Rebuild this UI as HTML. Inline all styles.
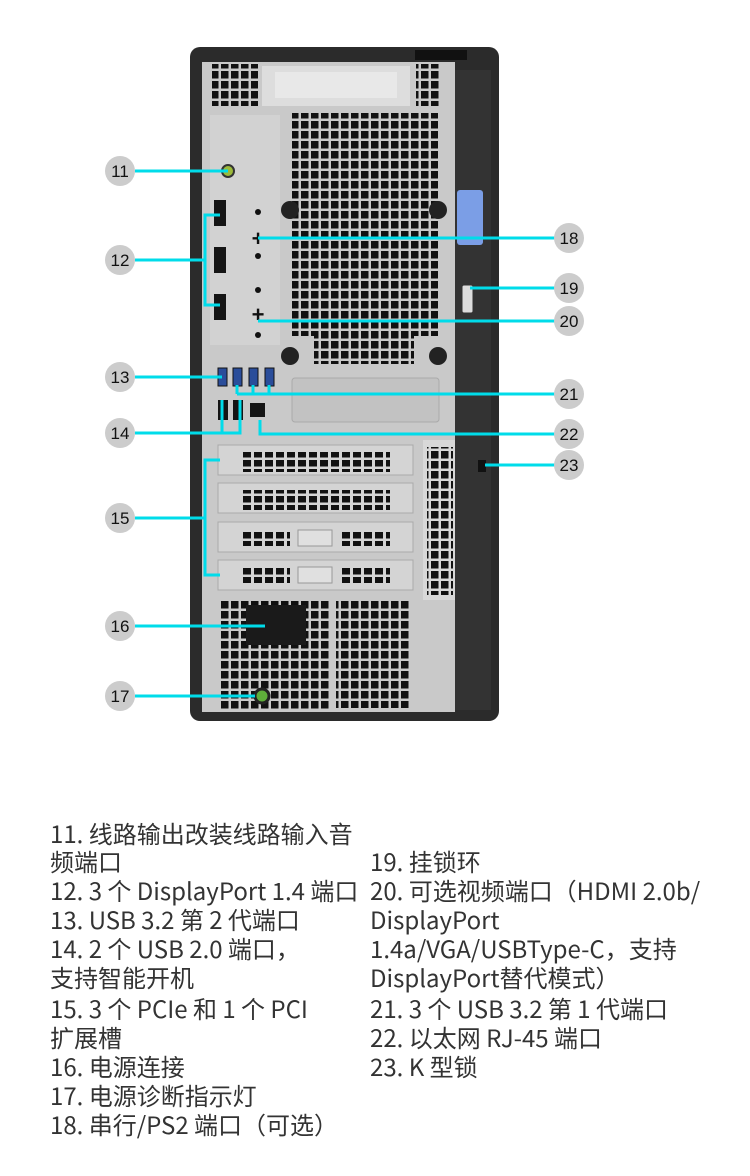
<!DOCTYPE html>
<html><head><meta charset="utf-8"><style>
body{margin:0;width:750px;height:1176px;background:#fff;position:relative;overflow:hidden;font-family:"Noto Sans CJK SC","Liberation Sans",sans-serif;}
.t{position:absolute;font-size:24px;color:#333;white-space:nowrap;line-height:29px;font-family:"Noto Sans CJK SC",sans-serif;}
</style></head><body>
<svg width="750" height="780" style="position:absolute;left:0;top:0;font-family:'Liberation Sans',sans-serif">
<defs>
<pattern id="g" width="10" height="10" patternUnits="userSpaceOnUse"><rect x="1" y="1" width="7.5" height="7.5" fill="#111"/></pattern>
<pattern id="g2" width="11" height="9" patternUnits="userSpaceOnUse"><rect x="1" y="1" width="8" height="6.5" fill="#111"/></pattern>
</defs>
<rect x="190" y="47" width="309" height="674" rx="10" fill="#2b2b2b"/>
<rect x="202" y="62" width="253" height="650" fill="#c9c9c9"/>
<rect x="455" y="70" width="36" height="640" fill="#333"/>
<rect x="415" y="50" width="52" height="10" fill="#111"/>
<rect x="262" y="66" width="148" height="40" fill="#ddd"/>
<rect x="275" y="72" width="122" height="26" fill="#e8e8e8"/>
<rect x="212" y="64" width="46" height="42" fill="url(#g)"/>
<rect x="416" y="64" width="24" height="42" fill="url(#g)"/>
<rect x="210" y="115" width="70" height="230" fill="#d2d2d2"/>
<rect x="292" y="113" width="146" height="80" fill="url(#g)"/>
<rect x="292" y="193" width="146" height="30" fill="url(#g)"/>
<rect x="292" y="223" width="146" height="113" fill="url(#g)"/>
<rect x="314" y="336" width="100" height="28" fill="url(#g)"/>
<circle cx="290" cy="210" r="9" fill="#222"/><circle cx="438" cy="210" r="9" fill="#222"/>
<circle cx="290" cy="356" r="9" fill="#222"/><circle cx="438" cy="356" r="9" fill="#222"/>
<rect x="292" y="378" width="147" height="44" rx="3" fill="#c2c2c2" stroke="#aaa"/>
<circle cx="228" cy="171" r="6" fill="#9cba3a" stroke="#333" stroke-width="2"/>
<rect x="214" y="200" width="12" height="26" fill="#151515"/>
<rect x="214" y="247" width="12" height="26" fill="#151515"/>
<rect x="214" y="294" width="12" height="26" fill="#151515"/>
<text x="258" y="246" font-size="22" font-weight="bold" text-anchor="middle" fill="#111">+</text>
<text x="258" y="322" font-size="22" font-weight="bold" text-anchor="middle" fill="#111">+</text>
<circle cx="258" cy="212" r="3" fill="#111"/><circle cx="258" cy="256" r="3" fill="#111"/>
<circle cx="258" cy="290" r="3" fill="#111"/><circle cx="258" cy="335" r="3" fill="#111"/>
<rect x="218" y="368" width="9" height="18" fill="#2a4d9a" stroke="#111"/>
<rect x="233" y="368" width="9" height="18" fill="#2a4d9a" stroke="#111"/>
<rect x="249" y="368" width="9" height="18" fill="#2a4d9a" stroke="#111"/>
<rect x="265" y="368" width="9" height="18" fill="#2a4d9a" stroke="#111"/>
<rect x="218" y="400" width="10" height="20" fill="#151515"/>
<rect x="233" y="400" width="10" height="20" fill="#151515"/>
<rect x="250" y="403" width="15" height="14" fill="#151515"/>
<rect x="218" y="445" width="195" height="30" fill="#d4d4d4" stroke="#aaa"/>
<rect x="240" y="452" width="150" height="20" fill="url(#g2)"/>
<rect x="218" y="483" width="195" height="30" fill="#d4d4d4" stroke="#aaa"/>
<rect x="240" y="490" width="150" height="20" fill="url(#g2)"/>
<rect x="218" y="522" width="195" height="30" fill="#d4d4d4" stroke="#aaa"/>
<rect x="240" y="530" width="50" height="16" fill="url(#g2)"/><rect x="340" y="530" width="50" height="16" fill="url(#g2)"/>
<rect x="298" y="530" width="34" height="16" fill="#e0e0e0" stroke="#999"/>
<rect x="218" y="560" width="195" height="30" fill="#d4d4d4" stroke="#aaa"/>
<rect x="240" y="567" width="50" height="16" fill="url(#g2)"/><rect x="340" y="567" width="50" height="16" fill="url(#g2)"/>
<rect x="298" y="567" width="34" height="16" fill="#e0e0e0" stroke="#999"/>
<rect x="423" y="440" width="32" height="160" fill="#d8d8d8"/>
<rect x="427" y="447" width="26" height="148" fill="url(#g)"/>
<rect x="220" y="600" width="110" height="110" fill="url(#g)"/>
<rect x="246" y="605" width="60" height="40" fill="#1a1a1a"/>
<rect x="336" y="600" width="74" height="108" fill="url(#g)"/>
<circle cx="262" cy="696" r="7" fill="#5fae3a" stroke="#222" stroke-width="3"/>
<rect x="457" y="190" width="26" height="55" rx="3" fill="#7b9ee6"/>
<rect x="462" y="285" width="11" height="28" rx="2" fill="#ddd" stroke="#333"/>
<rect x="478" y="460" width="8" height="12" fill="#111"/>
<g stroke="#00dcea" stroke-width="3" fill="none">
<path d="M135 171H228"/>
<path d="M135 260H205M220 215H205V305H220"/>
<path d="M135 377H222"/>
<path d="M135 433H240V400M222 433V400"/>
<path d="M135 518H205M220 460H205V575H220"/>
<path d="M135 626H265"/>
<path d="M135 696H255"/>
<path d="M258 238H555"/>
<path d="M470 288H555"/>
<path d="M258 321H555"/>
<path d="M237 394H555M237 385V394M253 385V394M269 385V394"/>
<path d="M260 420V434H555"/>
<path d="M485 465H555"/>
</g>
<g font-size="17" text-anchor="middle" fill="#111">
<circle cx="120" cy="171" r="15" fill="#ccc"/><text x="120" y="177">11</text>
<circle cx="120" cy="260" r="15" fill="#ccc"/><text x="120" y="266">12</text>
<circle cx="120" cy="377" r="15" fill="#ccc"/><text x="120" y="383">13</text>
<circle cx="120" cy="433" r="15" fill="#ccc"/><text x="120" y="439">14</text>
<circle cx="120" cy="518" r="15" fill="#ccc"/><text x="120" y="524">15</text>
<circle cx="120" cy="626" r="15" fill="#ccc"/><text x="120" y="632">16</text>
<circle cx="120" cy="696" r="15" fill="#ccc"/><text x="120" y="702">17</text>
<circle cx="569" cy="238" r="15" fill="#ccc"/><text x="569" y="244">18</text>
<circle cx="569" cy="288" r="15" fill="#ccc"/><text x="569" y="294">19</text>
<circle cx="569" cy="321" r="15" fill="#ccc"/><text x="569" y="327">20</text>
<circle cx="569" cy="394" r="15" fill="#ccc"/><text x="569" y="400">21</text>
<circle cx="569" cy="434" r="15" fill="#ccc"/><text x="569" y="440">22</text>
<circle cx="569" cy="465" r="15" fill="#ccc"/><text x="569" y="471">23</text>
</g>
</svg>
<div class="t" style="left:50px;top:818px">11. 线路输出改装线路输入音</div>
<div class="t" style="left:50px;top:846px">频端口</div>
<div class="t" style="left:50px;top:875px">12. 3 个 DisplayPort 1.4 端口</div>
<div class="t" style="left:50px;top:904px">13. USB 3.2 第 2 代端口</div>
<div class="t" style="left:50px;top:933px">14. 2 个 USB 2.0 端口，</div>
<div class="t" style="left:50px;top:962px">支持智能开机</div>
<div class="t" style="left:50px;top:993px">15. 3 个 PCIe 和 1 个 PCI</div>
<div class="t" style="left:50px;top:1022px">扩展槽</div>
<div class="t" style="left:50px;top:1051px">16. 电源连接</div>
<div class="t" style="left:50px;top:1080px">17. 电源诊断指示灯</div>
<div class="t" style="left:50px;top:1109px">18. 串行/PS2 端口（可选）</div>
<div class="t" style="left:370px;top:846px">19. 挂锁环</div>
<div class="t" style="left:370px;top:875px">20. 可选视频端口（HDMI 2.0b/</div>
<div class="t" style="left:370px;top:904px">DisplayPort</div>
<div class="t" style="left:370px;top:933px">1.4a/VGA/USBType-C，支持</div>
<div class="t" style="left:370px;top:962px">DisplayPort替代模式）</div>
<div class="t" style="left:370px;top:993px">21. 3 个 USB 3.2 第 1 代端口</div>
<div class="t" style="left:370px;top:1022px">22. 以太网 RJ-45 端口</div>
<div class="t" style="left:370px;top:1051px">23. K 型锁</div>
</body></html>
